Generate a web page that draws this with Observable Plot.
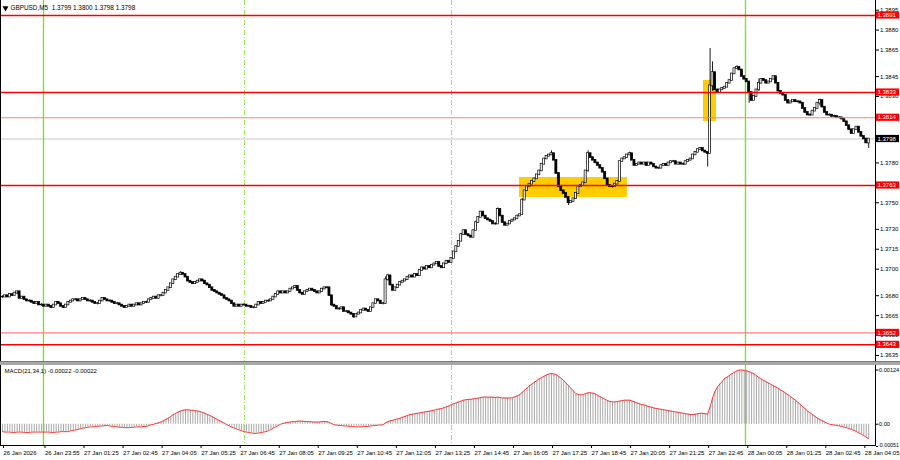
<!DOCTYPE html>
<html><head><meta charset="utf-8">
<script src="https://cdn.jsdelivr.net/npm/d3@7"></script>
<script src="https://cdn.jsdelivr.net/npm/@observablehq/plot@0.6"></script>
<style>
body{margin:0;background:#fff;}
#wrap{position:relative;width:900px;height:460px;overflow:hidden;background:#fff;}
#price{position:absolute;left:0;top:0;}
#sep{position:absolute;left:0;top:361px;width:900px;height:4px;background:#a8a8a8;border-top:1px solid #7a7a7a;box-sizing:border-box;}
#macd{position:absolute;left:0;top:365px;}
svg{font-family:"Liberation Sans",Arial,sans-serif;}
</style></head><body>
<div id="wrap"><div id="price"></div><div id="sep"></div><div id="macd"></div></div>
<script>
// ---------- DATA ----------
const symbol = "GBPUSD,M5";
const lastOHLC = [1.3799, 1.3800, 1.3798, 1.3798];
const macdTitle = "MACD(21,34,1)";
const macdNow = [-0.00022, -0.00022];
const BASE = 1.3600; // closes are stored in pips above this
// M5 closes, in pips above 1.3600
const closePips = [
 79,80,79,81,80,82,83,78,79,77,
 76,76,75,74,75,73,73,72,73,72,
 71,73,75,74,72,71,73,75,76,77,
 77,76,77,78,77,76,76,75,74,74,
 76,78,77,76,76,75,74,74,73,72,
 71,72,73,72,73,74,73,74,75,75,
 77,78,79,78,80,80,82,84,86,89,
 92,94,96,97,96,94,91,90,89,90,
 91,92,91,89,88,86,84,83,82,81,
 80,78,77,76,74,72,73,72,73,73,
 72,72,71,71,73,75,74,75,76,76,
 77,79,81,83,82,83,82,83,85,86,
 87,84,82,81,83,84,85,84,83,82,
 83,85,86,86,80,73,72,70,70,71,
 68,68,67,66,64,66,67,69,70,69,
 68,71,74,77,76,74,74,92,95,88,
 84,86,88,90,91,92,94,95,94,96,
 95,99,101,100,102,101,103,104,105,102,
 101,104,106,105,108,113,117,121,126,129,
 126,125,124,129,135,139,143,140,138,137,
 136,134,134,145,140,135,133,134,136,137,
 138,140,141,152,159,162,164,166,168,171,
 174,179,183,185,186,187,182,172,162,159,
 157,154,150,151,153,157,162,163,165,174,
 187,184,182,180,178,176,173,168,163,162,
 162,164,166,181,183,184,186,187,182,178,
 179,180,179,180,178,180,179,177,176,176,
 178,179,178,180,181,181,179,180,179,179,
 181,182,183,186,188,190,191,189,188,187,
 238,248,235,233,235,236,237,240,242,247,
 251,252,250,245,243,241,233,227,230,235,
 240,243,242,240,241,243,245,240,234,232,
 231,227,225,226,227,226,226,225,221,218,
 216,216,219,221,225,227,222,218,216,216,
 215,215,214,214,213,211,208,205,202,205,
 207,203,200,198,195,198
];
// notable wicks: [bar, high pips, low pips]
const wickPips = [
 [6,84,80],[73,99,95],[135,80,71],[144,64,62],[157,95,73],[158,97,90],[188,128,121],[194,137,129],
 [203,147,134],[213,154,140],[225,190,185],[232,151,147],[240,190,172],[257,189,185],
 [289,188,176],[290,267,187],[291,257,233],[301,254,250],[306,241,224],[310,244,233],
 [335,229,222],[355,199,190]
];
// MACD main line (= signal, period 1), in units of 0.00001
const macdE5 = [
 -17,-18,-18,-18,-19,-19,-18,-18,-18,-19,
 -19,-19,-18,-18,-18,-18,-18,-18,-18,-18,
 -19,-19,-18,-18,-17,-17,-17,-17,-15,-14,
 -13,-12,-10,-9,-8,-7,-6,-6,-5,-5,
 -4,-4,-3,-3,-4,-5,-5,-6,-7,-7,
 -8,-8,-8,-7,-7,-6,-6,-6,-5,-5,
 -3,-1,0,2,3,5,8,11,14,18,
 22,25,28,30,32,33,33,32,32,31,
 30,29,27,25,22,20,17,14,11,8,
 5,2,-1,-4,-7,-9,-11,-13,-15,-17,
 -18,-19,-20,-21,-21,-20,-19,-18,-17,-15,
 -12,-9,-6,-3,0,2,3,4,5,6,
 6,7,7,7,6,6,6,5,5,5,
 5,6,6,6,4,1,-1,-2,-3,-3,
 -4,-4,-5,-5,-6,-6,-6,-6,-5,-5,
 -5,-4,-3,-3,-2,-2,-1,3,6,8,
 9,11,12,14,16,18,20,22,23,24,
 25,26,27,28,29,30,31,32,34,35,
 36,38,40,42,45,47,49,51,53,55,
 56,57,57,58,59,60,61,62,62,62,
 62,62,61,62,61,60,60,60,60,61,
 63,65,68,73,78,83,88,92,96,100,
 104,107,110,113,115,116,115,113,109,105,
 100,94,88,82,76,70,68,67,68,70,
 72,72,71,69,66,63,60,57,54,52,
 51,51,52,53,54,55,55,55,53,51,
 49,47,45,44,42,40,39,37,36,35,
 34,33,32,31,30,29,28,27,26,25,
 24,23,22,22,23,24,25,25,24,23,
 40,60,75,85,92,98,105,108,112,116,
 119,122,124,124,123,122,120,118,115,111,
 107,103,100,97,94,91,88,85,82,78,
 75,71,67,63,59,55,50,45,40,35,
 30,26,22,18,14,11,8,5,2,0,
 -1,-2,-3,-4,-5,-7,-8,-10,-12,-14,
 -17,-20,-23,-26,-30,-33
];
const priceTicks = [1.3895,1.3880,1.3865,1.3845,1.3830,1.3780,1.3750,1.3730,1.3715,1.3700,1.3680,1.3665,1.3650,1.3635];
const levelPrices = [1.3891, 1.3833, 1.3814, 1.3763, 1.3652, 1.3643];
const levelMajor  = [true, true, false, true, false, true];
const currentPrice = 1.3798;
const macdTicks = [0.00124, 0, -0.00051];
const macdTickText = ["0.00124", "0.00", "-0.00051"];
// yellow signal zones: bar range and price range
const zones = [
 {from: 211.9, to: 256.1, top: 1.37690, bottom: 1.37540},
 {from: 287.3, to: 292.6, top: 1.38421, bottom: 1.38112}
];
const dayLineBars = [16.8, 304.5];      // day separators (solid)
const sessionLineBars = [99.2, 184.0];  // session opens (dashed)
const timeLabels = ["26 Jan 2026","26 Jan 23:55","27 Jan 01:25","27 Jan 02:45","27 Jan 04:05","27 Jan 05:25",
 "27 Jan 06:45","27 Jan 08:05","27 Jan 09:25","27 Jan 10:45","27 Jan 12:05","27 Jan 13:25","27 Jan 14:45",
 "27 Jan 16:05","27 Jan 17:25","27 Jan 18:45","27 Jan 20:05","27 Jan 21:25","27 Jan 22:45","28 Jan 00:05",
 "28 Jan 01:25","28 Jan 02:45","28 Jan 04:05"];
const timeTickBars = [0,17,33,49,65,81,97,113,129,145,161,177,193,209,225,241,257,273,289,305,321,337,353];

// ---------- BUILD ----------
const toPrice = p => +(BASE + p / 10000).toFixed(5);
const wickMap = new Map(wickPips.map(([i, h, l]) => [i, {h: toPrice(h), l: toPrice(l)}]));
const candles = closePips.map((c, i) => {
  const open = toPrice(i ? closePips[i - 1] : c);
  const close = toPrice(c);
  const w = wickMap.get(i);
  return {i, open, close,
    high: Math.max(open, close, w ? w.h : -Infinity),
    low: Math.min(open, close, w ? w.l : Infinity)};
});
const macd = macdE5.map((v, i) => ({i, v: v / 1e5}));
const levels = levelPrices.map((p, k) => ({price: p, major: levelMajor[k]}));

const FS = 6;
const FONT = '"Liberation Sans", Arial, sans-serif';
const xScale = {type: "linear", domain: [0, 355], range: [2, 868.2], axis: null, label: null};

function priceTags(tags) {
  return (...args) => {
    const scales = args[1], dims = args[3];
    const g = d3.create("svg:g").attr("text-anchor", "start");
    const x0 = dims.width - dims.marginRight + 1;
    for (const t of tags) {
      const y = scales.y(t.price);
      g.append("rect").attr("x", x0).attr("y", y - 3.6).attr("width", 23).attr("height", 7.2).attr("fill", t.bg);
      g.append("text").attr("x", x0 + 1.5).attr("y", y).attr("dy", "0.35em").attr("text-anchor", "start")
        .attr("fill", t.fg).attr("font-size", FS).text(t.price.toFixed(4));
    }
    return g.node();
  };
}

const priceChart = Plot.plot({
  width: 900, height: 361,
  marginTop: 0, marginBottom: 0, marginLeft: 0, marginRight: 25,
  style: {fontFamily: FONT, fontSize: FS + "px", background: "#fff", color: "#000"},
  x: xScale,
  y: {domain: [1.3631, 1.3900], range: [360.3, 3.05], axis: null, label: null},
  marks: [
    Plot.rect(zones, {x1: "from", x2: "to", y1: "bottom", y2: "top", fill: "#ffcc00"}),
    Plot.ruleY([currentPrice], {stroke: "#c8c8c8", strokeWidth: 1}),
    Plot.ruleX(dayLineBars, {x: d => d, stroke: "#66ee00", strokeWidth: 1.3}),
    Plot.ruleX(sessionLineBars, {x: d => d, stroke: "#9ae65a", strokeWidth: 1, strokeDasharray: "5,2,1,2"}),
    Plot.ruleX(candles, {x: "i", y1: "low", y2: "high", stroke: "#000", strokeWidth: 0.9, insetTop: -1.2, insetBottom: -1.2}),
    Plot.rect(candles, {x1: d => d.i - 0.42, x2: d => d.i + 0.42, y1: "open", y2: "close", insetTop: -0.4, insetBottom: -0.4,
      fill: d => d.close >= d.open ? "#ffffff" : "#000000", stroke: "#000", strokeWidth: 0.7}),
    Plot.ruleY(levels, {y: "price", stroke: d => d.major ? "#ff0000" : "#ff8080", strokeWidth: d => d.major ? 1.5 : 1.1}),
    Plot.axisY({anchor: "right", label: null, ticks: priceTicks, tickSize: 3, tickPadding: 1.5, tickFormat: d3.format(".4f"), fontSize: FS}),
    Plot.frame({anchor: "left", stroke: "#000"}),
    Plot.frame({anchor: "right", stroke: "#000"}),
    priceTags([
      ...levels.map(l => ({price: l.price, bg: "#ff0000", fg: "#fff"})),
      {price: currentPrice, bg: "#000", fg: "#fff"}
    ]),
    Plot.dot([0], {frameAnchor: "top-left", dx: 5, dy: 7.5, symbol: "triangle", r: 2.2, fill: "#000", rotate: 180}),
    Plot.text([`${symbol}  ${lastOHLC.map(v => v.toFixed(4)).join(" ")}`], {frameAnchor: "top-left", dx: 10, dy: 7.5,
      textAnchor: "start", lineAnchor: "middle", fontSize: 6.4, fill: "#000"})
  ]
});
document.getElementById("price").append(priceChart);

const macdChart = Plot.plot({
  width: 900, height: 95,
  marginTop: 0, marginBottom: 15, marginLeft: 0, marginRight: 25,
  style: {fontFamily: FONT, fontSize: FS + "px", background: "#fff", color: "#000"},
  x: xScale,
  y: {domain: [-0.000487, 0.001344], range: [80, 0], axis: null, label: null},
  marks: [
    Plot.ruleX(dayLineBars, {x: d => d, stroke: "#66ee00", strokeWidth: 1.3}),
    Plot.ruleX(sessionLineBars, {x: d => d, stroke: "#9ae65a", strokeWidth: 1, strokeDasharray: "5,2,1,2"}),
    Plot.ruleX(macd, {x: "i", y1: 0, y2: "v", stroke: "#a9a9a9", strokeWidth: 1}),
    Plot.line(macd, {x: "i", y: "v", stroke: "#ff2020", strokeWidth: 0.9}),
    Plot.axisY({anchor: "right", label: null, ticks: macdTicks.slice(0, 2), tickSize: 2.5, tickPadding: 1,
      tickFormat: d => macdTickText[macdTicks.indexOf(d)], fontSize: 5.6}),
    Plot.axisY({anchor: "right", label: null, ticks: macdTicks.slice(2), tickSize: 2, tickPadding: 0.5, lineAnchor: "bottom",
      tickFormat: d => macdTickText[macdTicks.indexOf(d)], fontSize: 5.3}),
    Plot.axisX({anchor: "bottom", label: null, ticks: timeTickBars, tickSize: 3, tickPadding: 2,
      tickFormat: d => timeLabels[timeTickBars.indexOf(d)], textAnchor: "start", dx: 1, fontSize: FS}),
    Plot.frame({anchor: "left", stroke: "#000"}),
    Plot.frame({anchor: "right", stroke: "#000"}),
    Plot.frame({anchor: "bottom", stroke: "#000"}),
    Plot.text([`${macdTitle} ${macdNow.map(v => v.toFixed(5)).join(" ")}`], {frameAnchor: "top-left", dx: 4, dy: 5.5,
      textAnchor: "start", lineAnchor: "middle", fontSize: FS, fill: "#000"})
  ]
});
document.getElementById("macd").append(macdChart);
</script>
</body></html>
